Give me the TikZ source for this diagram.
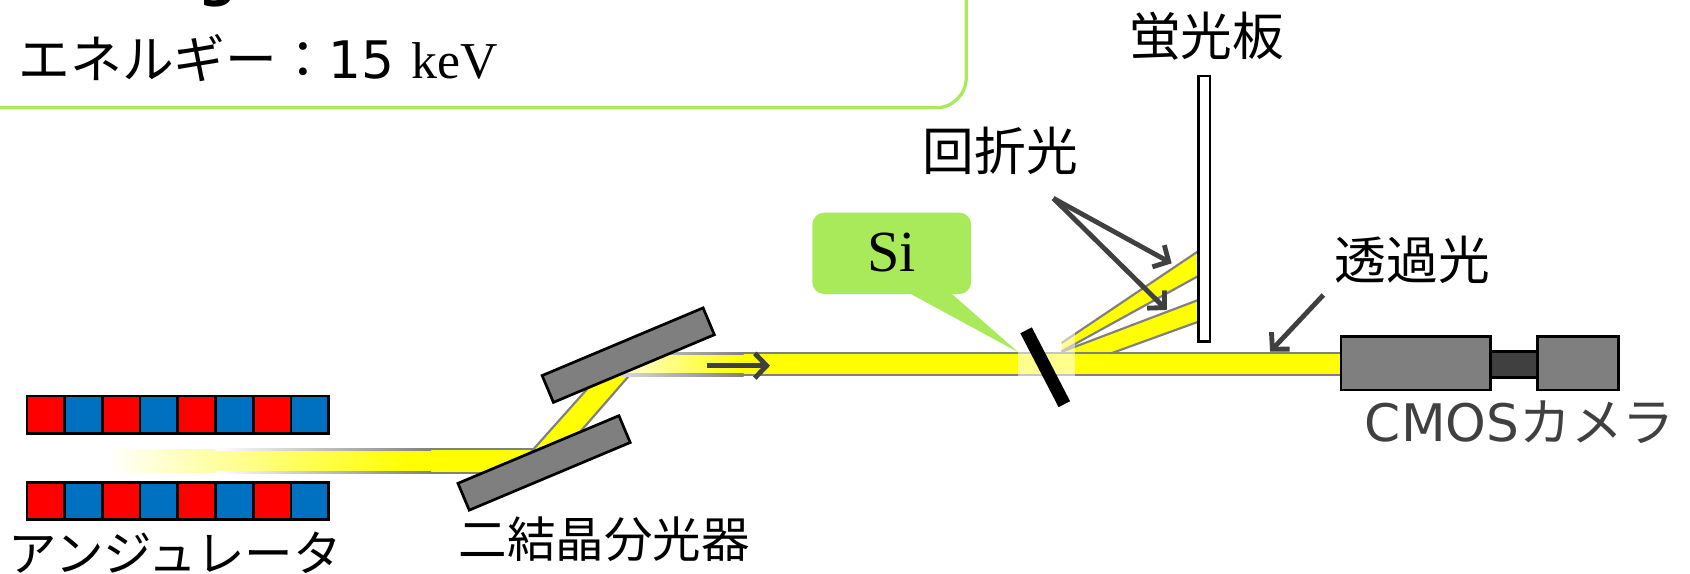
\documentclass[tikz,border=0pt]{standalone}
\usepackage{fontspec}
\usetikzlibrary{arrows.meta}
\newfontfamily\jpfont{Noto Sans CJK JP}
\newfontfamily\vfont{DejaVu Sans}
\newfontfamily\tfont{Liberation Serif}
\definecolor{beamyellow}{HTML}{FFFF00}
\definecolor{edgegray}{HTML}{808080}
\definecolor{crystalgray}{HTML}{7F7F7F}
\definecolor{inkgray}{HTML}{404040}
\definecolor{leafgreen}{RGB}{169,234,90}
\definecolor{magred}{HTML}{FF0000}
\definecolor{magblue}{HTML}{0070C0}

\begin{document}
\begin{tikzpicture}[x=1pt,y=-1pt,
  lbl/.style={inner sep=0pt, font=\jpfont\fontsize{48}{56}\selectfont},
  lblsmall/.style={inner sep=0pt, font=\jpfont\fontsize{45}{52}\selectfont},
  cell/.style={draw=black, line width=2.5pt, minimum width=35pt, minimum height=34.6pt, inner sep=0pt, outer sep=0pt},
  crystal/.style={draw=black, line width=2.5pt, fill=crystalgray, minimum width=162pt, minimum height=27pt, inner sep=0pt, rotate=22.8},
  cambox/.style={draw=black, line width=2.5pt, inner sep=0pt},
  beamedge/.style={draw=edgegray, line width=2pt},
  ptr/.style={draw=inkgray, line width=4.5pt, -{Straight Barb[length=11pt, width=23pt]}}
]
\useasboundingbox (0,0) rectangle (1568,532);
\clip (0,0) rectangle (1568,532);

% info box in the upper left corner
\draw[leafgreen, line width=3pt, rounded corners=28pt] (-40,-40) rectangle (896.5,100);
\node[anchor=base west, inner sep=0pt, font=\vfont\bfseries\fontsize{50}{60}\selectfont] (ttl) at (184,-4) {g};
\node[anchor=base west, inner sep=0pt, font=\jpfont\fontsize{48}{56}\selectfont] (energy) at (17,73)
  {エネルギー：{\vfont 15 }{\tfont keV}};

% undulator magnets
\foreach \i in {0,...,7}{
  \ifodd\i \def\cc{magblue}\else\def\cc{magred}\fi
  \node[cell, fill=\cc] (ut\i) at ({42.5+35*\i},384.7) {};
  \node[cell, fill=\cc] (ub\i) at ({42.5+35*\i},464.75) {};
}

% incoming beam
\shade[left color=white, right color=beamyellow] (99,416.8) rectangle (380,438.6);
\fill[beamyellow] (379,416.8) rectangle (520,438.6);
\shade[left color=white, right color=edgegray] (200,415.8) rectangle (400,417.8);
\fill[edgegray] (399,415.8) rectangle (500,417.8);
\shade[left color=white, right color=edgegray] (200,437.6) rectangle (400,439.6);
\fill[edgegray] (399,437.6) rectangle (470,439.6);

% beam between the two crystals
\fill[beamyellow] (490.2,422.1) -- (545.8,359.7) -- (590.7,340.5) -- (535.1,404.3) -- cycle;
\draw[beamedge] (490.2,422.1) -- (545.8,359.7);
\draw[beamedge] (535.1,404.3) -- (590.7,340.5);

% outgoing monochromatic beam
\shade[left color=beamyellow!15!white, right color=beamyellow] (576,327.8) rectangle (690,347.9);
\fill[beamyellow] (689,327.8) rectangle (1246,347.9);

% diffracted beams towards the screen
\fill[beamyellow] (985,318.2) -- (1111.8,233) -- (1111.8,256.1) -- (985,326) -- cycle;
\fill[beamyellow] (985,326.4) -- (1111.8,278.3) -- (1111.8,298.5) -- (1031,327.8) -- (985,327.8) -- cycle;
\draw[beamedge] (985,318.2) -- (1111.8,233);
\draw[beamedge] (985,326) -- (1111.8,256.1);
\draw[beamedge] (985,326.4) -- (1111.8,278.3);
\draw[beamedge] (1031,327.8) -- (1111.8,298.5);

% edges of the outgoing beam
\shade[left color=edgegray!30!white, right color=edgegray] (576,326.8) rectangle (690,328.8);
\fill[edgegray] (689,326.8) rectangle (1245,328.8);
\shade[left color=edgegray!30!white, right color=edgegray] (576,346.9) rectangle (690,348.9);
\fill[edgegray] (689,346.9) rectangle (1245,348.9);

% double-crystal monochromator
\node[crystal] (c1) at (504.8,429.5) {};
\node[crystal] (c2) at (582.9,329.5) {};

% beam direction
\coordinate (b0) at (655.7,339.3);
\coordinate (b1) at (714.4,339.3);
\draw[ptr] (b0) -- (b1);

% Si crystal
\fill[white, opacity=0.55] (944.5,298.5) rectangle (997.4,387);
\draw[black, line width=12pt] (952,306.5) -- (987.5,375);

% Si callout
\fill[leafgreen, rounded corners=11pt] (753.7,197.3) rectangle (901,272.8);
\fill[leafgreen] (840,270) -- (880,270) -- (945,327) -- cycle;
\node[inner sep=0pt, font=\tfont\fontsize{54}{60}\selectfont] (si) at (827,234) {Si};

% fluorescent screen
\node[draw=black, fill=white, line width=2.5pt, minimum width=10.9pt, minimum height=246.5pt, inner sep=0pt] (scr) at (1117.25,193.75) {};

% CMOS camera
\node[cambox, fill=crystalgray, minimum width=138.8pt, minimum height=49.4pt] (cbody) at (1313.6,337.1) {};
\node[cambox, fill=inkgray, minimum width=43.4pt, minimum height=23.7pt] (cneck) at (1404.7,338.15) {};
\node[cambox, fill=crystalgray, minimum width=75.1pt, minimum height=49.4pt] (chead) at (1463.95,337.1) {};

% labels
\node[lbl] (scrlbl) at (1119.5,34) {蛍光板};
\node[lbl] (difflbl) at (928,140) {回折光};
\node[lbl] (translbl) at (1310.5,241) {透過光};
\node[lbl, text=inkgray] (camlbl) at (1410,392) {{\vfont CMOS}カメラ};
\node[lblsmall] (undlbl) at (162.5,513) {アンジュレータ};
\node[lblsmall] (dcmlbl) at (560.5,500) {二結晶分光器};

% pointers
\coordinate (a0) at (977.3,184);
\coordinate (a1) at (1087.1,244.3);
\coordinate (a2) at (1082.5,287.6);
\draw[ptr] (a0) -- (a1);
\draw[ptr] (a0) -- (a2);
\coordinate (t0) at (1227.8,273.7);
\coordinate (t1) at (1178.4,326.3);
\draw[ptr] (t0) -- (t1);
\end{tikzpicture}
\end{document}
